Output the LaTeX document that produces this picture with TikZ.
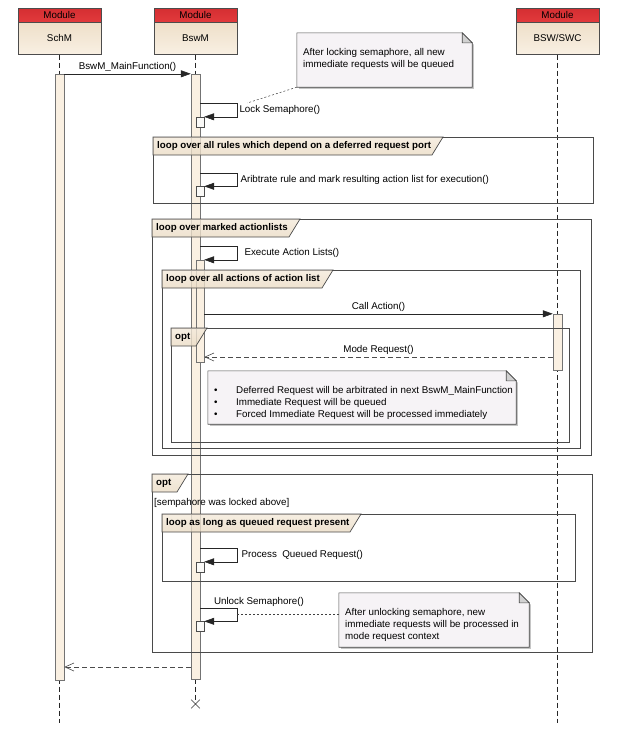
\documentclass[tikz,border=0pt]{standalone}
\usepackage{fontspec}
\setmainfont{Liberation Sans}
\usetikzlibrary{arrows.meta,positioning,shapes.misc,shadows}

\definecolor{modred}{HTML}{E23A3C}
\definecolor{modredtop}{HTML}{D42E32}
\definecolor{headtop}{HTML}{EEDFC9}
\definecolor{headbot}{HTML}{F9F0E3}
\definecolor{barfill}{HTML}{FAF0E2}
\definecolor{tagtop}{HTML}{F4EADB}
\definecolor{tagbot}{HTML}{EADBC4}
\definecolor{notefill}{HTML}{F6F3F6}
\definecolor{framegray}{HTML}{4A4A4A}

\tikzset{
  band/.style={rectangle,draw=black!70,top color=modredtop,bottom color=modred,
    minimum width=83pt,minimum height=14pt,inner sep=0pt},
  module/.style={rectangle,draw=black!70,top color=headtop,bottom color=headbot,
    minimum width=83pt,minimum height=32pt,inner sep=0pt},
  lifeline/.style={draw=black!85,dash pattern=on 5pt off 3pt,line width=0.6pt},
  actbar/.style={rectangle,draw=black!55,fill=barfill,minimum width=9pt,inner sep=0pt},
  callbox/.style={rectangle,draw=black!70,fill=barfill!85!black!12,minimum width=8pt,
    minimum height=10pt,inner sep=0pt},
  msg/.style={draw=black!85,line width=0.6pt,-{Triangle[length=10pt,width=7pt]}},
  reply/.style={draw=black!70,line width=0.6pt,dash pattern=on 5pt off 3pt,
    -{Straight Barb[length=9pt,width=8pt]}},
  frame/.style={draw=framegray,line width=0.7pt},
  tag/.style={draw=framegray,line width=0.7pt,top color=tagtop,bottom color=tagbot,fill opacity=0.8},
  taglabel/.style={font=\bfseries\fontsize{9.7}{10}\selectfont,inner sep=0pt,anchor=west},
  note/.style={rectangle,fill=notefill,inner sep=0pt,
    drop shadow={shadow xshift=2pt,shadow yshift=-2pt,fill=black!45,opacity=0.5}},
  notetext/.style={align=left,inner sep=0pt,anchor=north west},
  noteline/.style={draw=black!75,dash pattern=on 2pt off 2pt,line width=0.5pt},
}

% combined fragment: name, x1, y1, x2, y2, end of tag, label
\newcommand{\fragment}[7]{%
  \draw[frame] (#2,#3) rectangle (#4,#5);
  \path[tag] (#2,#3) -- (#6,#3) -- ++(-11,18) -- (#2,#3+18) -- cycle;
  \node[taglabel] (#1) at (#2+4,#3+9) {#7};
}

% dog-ear of a note
\newcommand{\notefold}[1]{%
  \fill[white] ([xshift=-10pt]#1.north east) -- ([xshift=3pt]#1.north east)
    -- ([xshift=3pt,yshift=-13pt]#1.north east) -- cycle;
  \draw[draw=black!70,line width=0.6pt] (#1.south west) -- (#1.north west)
    -- ([xshift=-10pt]#1.north east) -- ([yshift=-10pt]#1.north east) -- (#1.south east) -- cycle;
  \filldraw[fill=black!18,draw=black!70,line width=0.6pt] ([xshift=-10pt]#1.north east)
    -- ([xshift=-10pt,yshift=-10pt]#1.north east) -- ([yshift=-10pt]#1.north east) -- cycle;
}

\begin{document}
\begin{tikzpicture}[x=1pt,y=-1pt,font=\fontsize{9.8}{12}\selectfont]
\useasboundingbox (0,0) rectangle (622,739);

% lifeline heads
\node[band] (schm-band) at (59.5,15) {Module};
\node[module,below=0pt of schm-band] (schm) {SchM};
\node[band] (bswm-band) at (195.5,15) {Module};
\node[module,below=0pt of bswm-band] (bswm) {BswM};
\node[band] (swc-band) at (557.5,15) {Module};
\node[module,below=0pt of swc-band] (swc) {BSW/SWC};

% lifelines
\coordinate (schm-end) at (59.5,723);
\coordinate (swc-end) at (557.5,723);
\node[cross out,draw=black!80,line width=0.6pt,minimum size=8pt,inner sep=0pt] (bswm-end) at (195.5,704) {};
\draw[lifeline] (schm) -- (schm-end);
\draw[lifeline] (bswm) -- (bswm-end);
\draw[lifeline] (swc) -- (swc-end);

% activations
\node[actbar,minimum height=606pt] (schm-act) at (59.5,377) {};
\node[actbar,minimum height=605pt] (bswm-act) at (195.5,376.5) {};
\node[actbar,minimum width=8pt,minimum height=102pt] (exec-act) at (200,311) {};
\node[actbar,minimum height=56pt] (swc-act) at (557.5,342) {};

% fragments
\fragment{rules}{153}{137}{593}{203}{443}{loop over all rules which depend on a deferred request port}
\fragment{lists}{152}{219}{591}{455}{300}{loop over marked actionlists}
\fragment{actions}{162}{270}{580}{448}{333}{loop over all actions of action list}
\fragment{modeopt}{171}{328}{569}{442}{207}{opt}
\fragment{lockopt}{152}{474}{592}{652}{188}{opt}
\fragment{queue}{162}{514}{575}{581}{361}{loop as long as queued request present}
\node[anchor=west,inner sep=0pt] (guard) at (154,503) {[sempahore was locked above]};

% self calls
\node[callbox] (lock) at (200,122) {};
\node[callbox] (arb) at (200,191.5) {};
\node[callbox] (proc) at (200,567) {};
\node[callbox] (unlock) at (200,626.5) {};

% messages
\draw[msg] (schm-act.north east) -- node[above,inner sep=2pt] (main-lbl) {BswM\_MainFunction()} (bswm-act.north west);
\draw[msg] (bswm-act.east |- 0,103) -- ++(37,0) coordinate (lock-turn)
  |- node[pos=0.25,right,inner sep=2pt] (lock-lbl) {Lock Semaphore()} (lock.north east);
\draw[msg] (bswm-act.east |- 0,173) -- ++(37,0)
  |- node[pos=0.25,right,inner sep=3pt] (arb-lbl) {Aribtrate rule and mark resulting action list for execution()} (arb.north east);
\draw[msg] (bswm-act.east |- 0,246) -- ++(37,0)
  |- node[pos=0.25,right,inner sep=7pt] (exec-lbl) {Execute Action Lists()} (exec-act.north east);
\draw[msg] (exec-act.east |- swc-act.north) -- node[above,inner sep=2pt] (call-lbl) {Call Action()} (swc-act.north west);
\draw[reply] (swc-act.west |- 0,357) -- node[above,inner sep=2pt] (mode-lbl) {Mode Request()} (exec-act.east |- 0,357);
\draw[msg] (bswm-act.east |- 0,548) -- ++(37,0)
  |- node[pos=0.25,right,inner sep=4pt] (proc-lbl) {Process\ \ Queued Request()} (proc.north east);
\draw[msg] (bswm-act.east |- 0,608) node[above right,xshift=12pt,inner sep=1.5pt] (unlock-lbl) {Unlock Semaphore()}
  -- ++(37,0) |- coordinate[pos=0.25] (unlock-mid) (unlock.north east);
\draw[reply] (bswm-act.west |- 0,667) -- (schm-act.east |- 0,667);

% notes
\node[note,minimum width=175pt,minimum height=54pt] (lock-note) at (384.5,60) {};
\notefold{lock-note}
\node[notetext] (lock-note-txt) at (303,48) {After locking semaphore, all new\\immediate requests will be queued};
\draw[noteline] (lock-note.south west) -- ([xshift=10pt]lock-turn);

\node[note,minimum width=308pt,minimum height=53pt] (mode-note) at (362,397.5) {};
\notefold{mode-note}
\node[notetext] (mode-note-txt) at (214,386) {%
  \makebox[22pt][l]{\textbullet}Deferred Request will be arbitrated in next BswM\_MainFunction\\
  \makebox[22pt][l]{\textbullet}Immediate Request will be queued\\
  \makebox[22pt][l]{\textbullet}Forced Immediate Request will be processed immediately};

\node[note,minimum width=190pt,minimum height=54pt] (unlock-note) at (434,620) {};
\notefold{unlock-note}
\node[notetext] (unlock-note-txt) at (345,608) {After unlocking semaphore, new\\immediate requests will be processed in\\mode request context};
\draw[noteline] (unlock-mid) -- (unlock-mid -| unlock-note.west);

\end{tikzpicture}
\end{document}
